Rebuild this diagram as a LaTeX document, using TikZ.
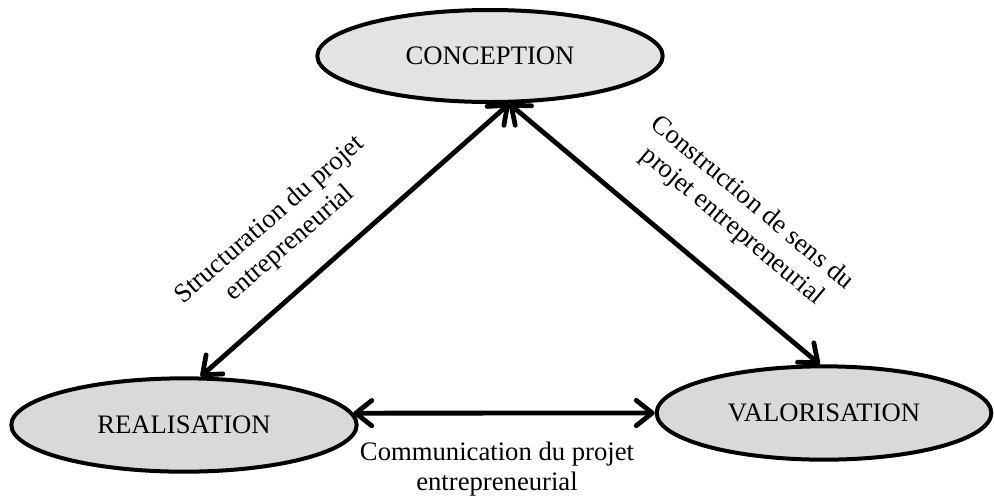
\documentclass[tikz,border=0pt]{standalone}
\usepackage{fontspec}
\setmainfont{Liberation Serif}
\usetikzlibrary{arrows.meta,shapes.geometric}
\tikzset{
  stage/.style={ellipse, draw=black, line width=3pt, inner sep=0pt,
    font=\fontsize{20}{23}\selectfont},
  link/.style={line width=3.6pt, {Straight Barb[length=12pt,width=19pt,round]}-{Straight Barb[length=12pt,width=19pt,round]}},
  lab/.style={align=center, inner sep=0pt, font=\fontsize{20}{23}\selectfont}
}
\begin{document}
\begin{tikzpicture}[x=0.75pt,y=-0.75pt]
\useasboundingbox (0,0) rectangle (994,497);
\node[stage, fill=black!11, minimum width=259pt, minimum height=69pt] (conc) at (490,56) {CONCEPTION};
\node[stage, fill=black!15, minimum width=259pt, minimum height=70pt] (real) at (184,425) {REALISATION};
\node[stage, fill=black!15, minimum width=251pt, minimum height=70pt] (val) at (824,413) {VALORISATION};
\draw[link] (real.71) -- (conc.-68);
\draw[link] (conc.-68) -- (val.95);
\draw[link] (real.4) -- (val.180);
\node[lab, rotate=41] (l1) at (280,232) {Structuration du projet\\entrepreneurial};
\node[lab, rotate=-40] (l2) at (742,215) {Construction de sens du\\projet entrepreneurial};
\node[lab] (l3) at (497,469) {Communication du projet\\entrepreneurial};
\end{tikzpicture}
\end{document}
